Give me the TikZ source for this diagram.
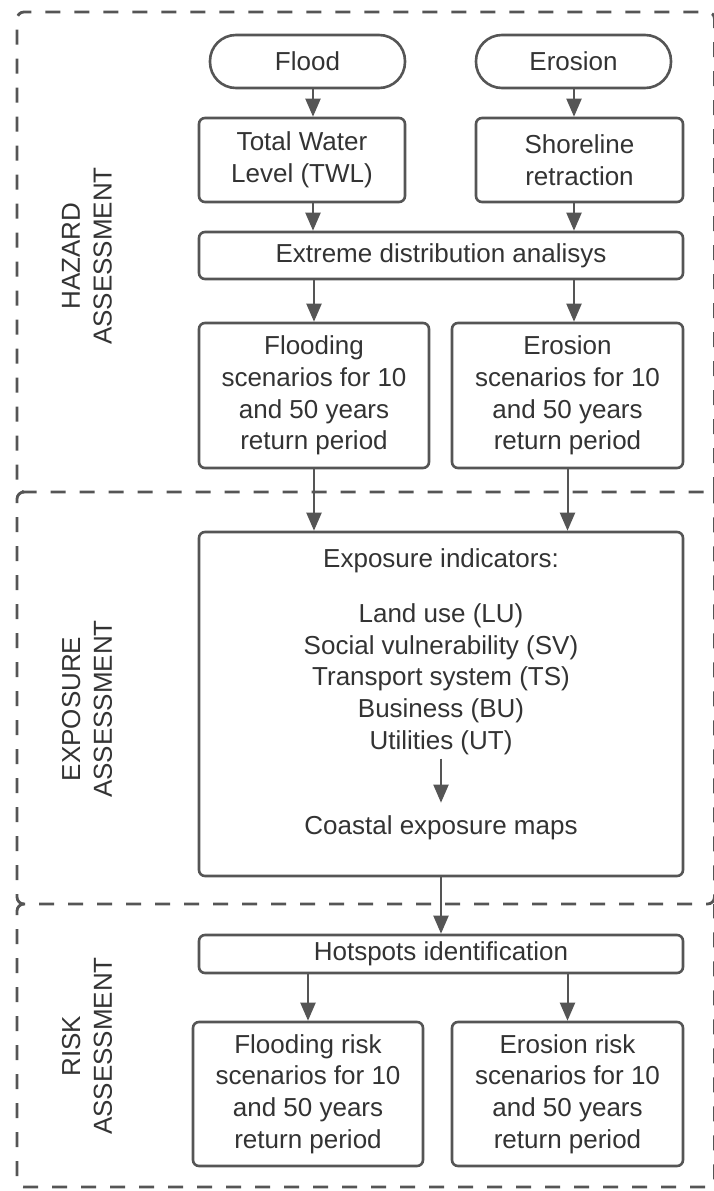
\documentclass[tikz,border=0pt]{standalone}
\usepackage{fontspec}
\setmainfont{Liberation Sans}
\usetikzlibrary{arrows.meta}
\definecolor{ln}{HTML}{555555}
\definecolor{tx}{HTML}{333333}
\begin{document}
\begin{tikzpicture}[x=1pt,y=-1pt,
  every node/.style={font=\fontsize{26}{31.7}\selectfont, text=tx},
  box/.style={draw=ln, line width=2.6pt, rounded corners=6pt, align=center, inner sep=0pt},
  term/.style={box, rounded corners=26pt},
  arr/.style={draw=ln, line width=2pt, -{Triangle[length=18pt,width=15pt]}},
  zone/.style={draw=ln, line width=2.8pt, dash pattern=on 15pt off 14pt, rounded corners=7pt},
  lab/.style={rotate=90, align=center, text=tx},
  plain/.style={inner sep=0pt, align=center}]
\useasboundingbox (0,0) rectangle (713,1191);
\fill[white] (0,0) rectangle (713,1191);

% zones
\draw[zone] (714.5,492) -- (714.5,12) -- (17,12) -- (17,492) -- (714.5,492);
\draw[zone] (24,492) -- (17,492) -- (17,904) -- (714.5,904) -- (714.5,492);
\draw[zone] (24,904) -- (17,904) -- (17,1187) -- (714.5,1187) -- (714.5,904);

\node[lab] (lhaz) at (87,256) {HAZARD\\ASSESSMENT};
\node[lab] (lexp) at (87,709) {EXPOSURE\\ASSESSMENT};
\node[lab] (lrisk) at (87,1046) {RISK\\ASSESSMENT};

\coordinate (colL) at (313,0);
\coordinate (colR) at (574,0);

% hazard
\node[term, minimum width=195pt, minimum height=53pt] (flood) at (307.5,61.5) {Flood};
\node[term, minimum width=195pt, minimum height=53pt] (erosion) at (573.5,61.5) {Erosion};
\node[box, minimum width=206pt, minimum height=84pt] (twl) at (302,160) {Total Water\\Level (TWL)};
\node[box, minimum width=207pt, minimum height=84pt] (shore) at (579.5,160) {Shoreline\\retraction};
\node[box, minimum width=484pt, minimum height=47pt] (extreme) at (441,255.5) {Extreme distribution analisys};
\node[box, minimum width=230pt, minimum height=145pt] (floodsc) at (314,395.5) {Flooding\\scenarios for 10\\and 50 years\\return period};
\node[box, minimum width=231pt, minimum height=145pt] (erosc) at (567.5,395.5) {Erosion\\scenarios for 10\\and 50 years\\return period};

% exposure
\node[box, minimum width=484pt, minimum height=344pt] (expo) at (441,704) {};
\node[plain] (exptitle) at (441,561) {Exposure indicators:};
\node[plain] (ind) at (441,679) {Land use (LU)\\Social vulnerability (SV)\\Transport system (TS)\\Business (BU)\\Utilities (UT)};
\node[plain] (coastal) at (441,828) {Coastal exposure maps};

% risk
\node[box, minimum width=484pt, minimum height=38pt] (hot) at (441,954) {Hotspots identification};
\node[box, minimum width=230pt, minimum height=144pt] (floodrisk) at (308,1094) {Flooding risk\\scenarios for 10\\and 50 years\\return period};
\node[box, minimum width=231pt, minimum height=144pt] (erorisk) at (567.5,1094) {Erosion risk\\scenarios for 10\\and 50 years\\return period};

% connectors
\draw[arr] (flood.south -| colL) -- (twl.north -| colL);
\draw[arr] (erosion.south -| colR) -- (shore.north -| colR);
\draw[arr] (twl.south -| colL) -- (extreme.north -| colL);
\draw[arr] (shore.south -| colR) -- (extreme.north -| colR);
\draw[arr] (extreme.south -| floodsc.north) -- (floodsc.north);
\draw[arr] (extreme.south -| colR) -- (erosc.north -| colR);
\draw[arr] (floodsc.south) -- (floodsc.south |- expo.north);
\draw[arr] (erosc.south) -- (erosc.south |- expo.north);
\draw[arr, shorten <=4pt, shorten >=13pt] (ind.south) -- (coastal.north);
\draw[arr] (expo.south) -- (hot.north);
\draw[arr] (hot.south -| floodrisk.north) -- (floodrisk.north);
\draw[arr] (hot.south -| erorisk.north) -- (erorisk.north);
\end{tikzpicture}
\end{document}
